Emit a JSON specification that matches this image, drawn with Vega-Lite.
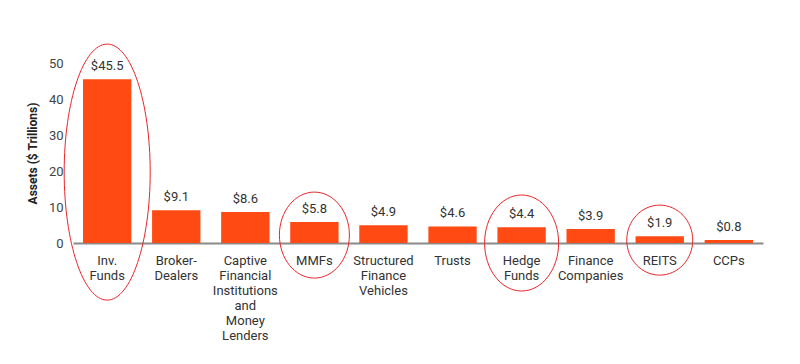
{
  "$schema": "https://vega.github.io/schema/vega-lite/v6.json",
  "autosize": {"type": "none"},
  "padding": {"left": 73, "top": 63, "right": 37, "bottom": 121},
  "width": 690,
  "height": 180,
  "background": "white",
  "config": {
    "view": {"stroke": null},
    "font": "Roboto",
    "axisY": {
      "titleFontSize": 12,
      "titleFontWeight": "bold",
      "titleColor": "#222222",
      "titlePadding": 9,
      "labelFontSize": 13,
      "labelColor": "#444444",
      "labelPadding": 10,
      "labelOverlap": false,
      "labelFlush": false,
      "ticks": false,
      "domain": false,
      "grid": false,
      "tickCount": 6
    },
    "axisX": {
      "labelAngle": 0,
      "labelFontSize": 13,
      "labelColor": "#333333",
      "labelLineHeight": 15,
      "labelPadding": 11,
      "labelLimit": 0,
      "labelOverlap": false,
      "ticks": false,
      "domainColor": "#8a8a8a",
      "domainWidth": 2,
      "grid": false
    }
  },
  "datasets": {
    "assets": [
      {"label": "Inv.|Funds", "value": 45.5},
      {"label": "Broker-|Dealers", "value": 9.1},
      {"label": "Captive|Financial|Institutions|and|Money|Lenders", "value": 8.6},
      {"label": "MMFs", "value": 5.8},
      {"label": "Structured|Finance|Vehicles", "value": 4.9},
      {"label": "Trusts", "value": 4.6},
      {"label": "Hedge|Funds", "value": 4.4},
      {"label": "Finance|Companies", "value": 3.9},
      {"label": "REITS", "value": 1.9},
      {"label": "CCPs", "value": 0.8}
    ],
    "highlights": [
      {"label": "Inv.|Funds", "center": 19.7},
      {"label": "MMFs", "center": 2.2},
      {"label": "Hedge|Funds", "center": 0.0},
      {"label": "REITS", "center": 0.8}
    ]
  },
  "encoding": {
    "x": {
      "field": "label",
      "type": "nominal",
      "sort": null,
      "scale": {"paddingInner": 0.3, "paddingOuter": 0.145},
      "axis": {"title": null, "labelExpr": "split(datum.label, '|')"}
    }
  },
  "layer": [
    {
      "data": {"name": "assets"},
      "mark": {"type": "bar", "color": "#ff4a14"},
      "encoding": {
        "y": {
          "field": "value",
          "type": "quantitative",
          "scale": {"domain": [0, 50]},
          "axis": {"title": "Assets ($ Trillions)", "values": [0, 10, 20, 30, 40, 50]}
        }
      }
    },
    {
      "data": {"name": "assets"},
      "mark": {"type": "text", "baseline": "bottom", "dy": -6, "fontSize": 13, "color": "#333333"},
      "encoding": {
        "y": {"field": "value", "type": "quantitative", "axis": {"title": "Assets ($ Trillions)", "values": [0, 10, 20, 30, 40, 50]}},
        "text": {"field": "value", "type": "quantitative", "format": "$.1f"}
      }
    },
    {
      "data": {"name": "highlights"},
      "transform": [{"filter": "datum.label === 'Inv.|Funds'"}],
      "mark": {"type": "point", "filled": false, "stroke": "#e8262a", "strokeWidth": 1, "opacity": 1, "clip": false,
        "shape": "M0.336,0C0.336,0.552 0.186,1 0,1C-0.186,1 -0.336,0.552 -0.336,0C-0.336,-0.552 -0.186,-1 0,-1C0.186,-1 0.336,-0.552 0.336,0Z",
        "size": 65536},
      "encoding": {"y": {"field": "center", "type": "quantitative", "axis": {"title": "Assets ($ Trillions)", "values": [0, 10, 20, 30, 40, 50]}}}
    },
    {
      "data": {"name": "highlights"},
      "transform": [{"filter": "datum.label === 'MMFs'"}],
      "mark": {"type": "point", "filled": false, "stroke": "#e8262a", "strokeWidth": 1, "opacity": 1, "clip": false,
        "shape": "M0.814,0C0.814,0.552 0.45,1 0,1C-0.45,1 -0.814,0.552 -0.814,0C-0.814,-0.552 -0.45,-1 0,-1C0.45,-1 0.814,-0.552 0.814,0Z",
        "size": 7396},
      "encoding": {"y": {"field": "center", "type": "quantitative", "axis": {"title": "Assets ($ Trillions)", "values": [0, 10, 20, 30, 40, 50]}}}
    },
    {
      "data": {"name": "highlights"},
      "transform": [{"filter": "datum.label === 'Hedge|Funds'"}],
      "mark": {"type": "point", "filled": false, "stroke": "#e8262a", "strokeWidth": 1, "opacity": 1, "clip": false,
        "shape": "M0.771,0C0.771,0.552 0.426,1 0,1C-0.426,1 -0.771,0.552 -0.771,0C-0.771,-0.552 -0.426,-1 0,-1C0.426,-1 0.771,-0.552 0.771,0Z",
        "size": 9216},
      "encoding": {"y": {"field": "center", "type": "quantitative", "axis": {"title": "Assets ($ Trillions)", "values": [0, 10, 20, 30, 40, 50]}}}
    },
    {
      "data": {"name": "highlights"},
      "transform": [{"filter": "datum.label === 'REITS'"}],
      "mark": {"type": "point", "filled": false, "stroke": "#e8262a", "strokeWidth": 1, "opacity": 1, "clip": false,
        "shape": "M0.943,0C0.943,0.552 0.521,1 0,1C-0.521,1 -0.943,0.552 -0.943,0C-0.943,-0.552 -0.521,-1 0,-1C0.521,-1 0.943,-0.552 0.943,0Z",
        "size": 4900},
      "encoding": {"y": {"field": "center", "type": "quantitative", "axis": {"title": "Assets ($ Trillions)", "values": [0, 10, 20, 30, 40, 50]}}}
    }
  ]
}
